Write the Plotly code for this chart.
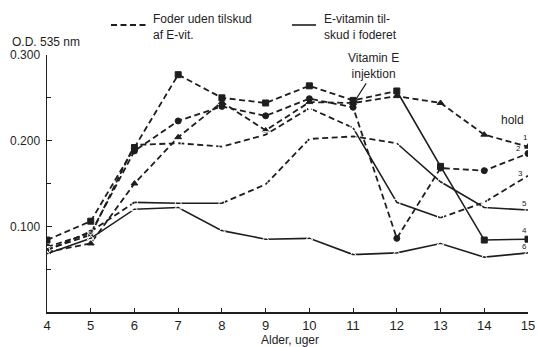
import plotly.graph_objects as go

weeks = [4, 5, 6, 7, 8, 9, 10, 11, 12, 13, 14, 15]

hold1 = [0.070, 0.080, 0.150, 0.204, 0.245, 0.212, 0.245, 0.244, 0.252, 0.244, 0.207, 0.193]
hold2 = [0.076, 0.092, 0.188, 0.223, 0.240, 0.229, 0.249, 0.239, 0.086, 0.168, 0.165, 0.185]
hold3 = [0.073, 0.090, 0.195, 0.197, 0.193, 0.207, 0.238, 0.215, 0.128, 0.110, 0.128, 0.159]
hold4 = [0.084, 0.106, 0.192, 0.277, 0.250, 0.244, 0.264, 0.247, 0.258, 0.170, 0.084, 0.085]
hold5 = [0.072, 0.094, 0.128, 0.127, 0.127, 0.149, 0.202, 0.205, 0.197, 0.152, 0.122, 0.119]
hold6 = [0.068, 0.086, 0.120, 0.122, 0.095, 0.085, 0.086, 0.067, 0.069, 0.080, 0.064, 0.069]

hold_labels = ["1", "2", "3", "4", "5", "6"]
y_tick_vals = [0.1, 0.2, 0.3]
y_tick_text = ["0.100", "0.200", "0.300"]
y_minor_vals = [0.05, 0.15, 0.25]

# segments (start index) drawn solid = E-vitamin supplement
solid_segments = {
    "1": [],
    "2": [],
    "3": [7, 8],
    "4": [8, 9, 10],
    "5": [2, 3, 8, 9, 10],
    "6": list(range(11)),
}
markers = {
    "1": "triangle-up",
    "2": "circle",
    "3": "square-open",
    "4": "square",
    "5": "circle-open",
    "6": "triangle-up-open",
}
series = {"1": hold1, "2": hold2, "3": hold3, "4": hold4, "5": hold5, "6": hold6}

INK = "#1e1e1e"
DASH = "6px,3.5px"

fig = go.Figure()
for h in hold_labels:
    vals = series[h]
    solid = set(solid_segments[h])
    i = 0
    n = len(weeks) - 1
    while i < n:
        is_solid = i in solid
        j = i
        while j + 1 < n and ((j + 1) in solid) == is_solid:
            j += 1
        fig.add_trace(go.Scatter(
            x=weeks[i:j + 2], y=vals[i:j + 2], mode="lines",
            line=dict(color=INK, width=1.8 if not is_solid else 1.6,
                      dash="solid" if is_solid else DASH),
            showlegend=False, hoverinfo="skip"))
        i = j + 1
    fig.add_trace(go.Scatter(
        x=weeks, y=vals, mode="markers",
        marker=dict(symbol=markers[h], size=6,
                    color=INK if "open" not in markers[h] else "white",
                    line=dict(color=INK, width=1)),
        showlegend=False, name="hold " + h))

# plot area in window pixels (body margin removed below)
L, R, T, B = 47, 528, 55, 312
W, H = 538, 347


def px(xp):
    return (xp - L) / (R - L)


def py(yp):
    return (B - yp) / (B - T)


fig.update_layout(
    width=W, height=H,
    margin=dict(l=L, r=W - R, t=T, b=H - B, pad=0, autoexpand=False),
    paper_bgcolor="white", plot_bgcolor="white",
    font=dict(family="Liberation Sans, Arial, sans-serif", size=12, color=INK),
    xaxis=dict(range=[4, 15], tickvals=weeks, ticktext=[str(w) for w in weeks],
               ticks="inside", ticklen=4, tickcolor=INK, showline=True, linecolor=INK,
               linewidth=1.5, showgrid=False, zeroline=False, automargin=False,
               tickfont=dict(size=13), ticklabelstandoff=1),
    yaxis=dict(range=[0, 0.3], tickvals=y_tick_vals, ticktext=y_tick_text,
               ticks="inside", ticklen=5, tickcolor=INK, showline=True, linecolor=INK,
               linewidth=1.5, showgrid=False, zeroline=False, automargin=False,
               tickfont=dict(size=12), ticklabelstandoff=3,
               minor=dict(tickvals=y_minor_vals, ticks="inside", ticklen=4, tickcolor=INK)),
)

ann = []
ann.append(dict(xref="paper", yref="paper", x=px(10), y=py(42), text="O.D. 535 nm",
                showarrow=False, xanchor="left", yanchor="middle", font=dict(size=12)))
ann.append(dict(xref="paper", yref="paper", x=px(290), y=py(340), text="Alder, uger",
                showarrow=False, xanchor="center", yanchor="middle", font=dict(size=12)))
ann.append(dict(xref="paper", yref="paper", x=px(151), y=py(27), text="Foder uden tilskud<br>af E-vit.",
                showarrow=False, xanchor="left", yanchor="middle", align="left", font=dict(size=12)))
ann.append(dict(xref="paper", yref="paper", x=px(322), y=py(27), text="E-vitamin til-<br>skud i foderet",
                showarrow=False, xanchor="left", yanchor="middle", align="left", font=dict(size=12)))
ann.append(dict(xref="paper", yref="paper", x=px(373), y=py(66), text="Vitamin E<br>injektion",
                showarrow=False, xanchor="center", yanchor="middle", align="center", font=dict(size=12)))
ann.append(dict(x=11, y=0.243, xref="x", yref="y", text="", showarrow=True,
                ax=14, ay=-22, arrowhead=2, arrowsize=0.8, arrowwidth=1.2, arrowcolor=INK))
ann.append(dict(xref="paper", yref="paper", x=px(512), y=py(120), text="hold",
                showarrow=False, xanchor="center", yanchor="middle", font=dict(size=12)))
label_pos = {"1": (525, 137), "2": (518, 148), "3": (520, 173), "4": (524, 230),
             "5": (524, 204), "6": (524, 246)}
for h in hold_labels:
    x0, y0 = label_pos[h]
    ann.append(dict(xref="paper", yref="paper", x=px(x0), y=py(y0), text=h,
                    showarrow=False, xanchor="center", yanchor="middle", font=dict(size=8)))
fig.update_layout(annotations=ann)

fig.add_shape(type="line", xref="paper", yref="paper", x0=px(111), x1=px(146), y0=py(25), y1=py(25),
              line=dict(color=INK, width=1.8, dash=DASH))
fig.add_shape(type="line", xref="paper", yref="paper", x0=px(292), x1=px(316), y0=py(25), y1=py(25),
              line=dict(color=INK, width=1.6))

fig.write_html("out.html", config={"displayModeBar": False, "staticPlot": True},
               post_script="document.body.style.margin='0';document.body.style.overflow='hidden';")
